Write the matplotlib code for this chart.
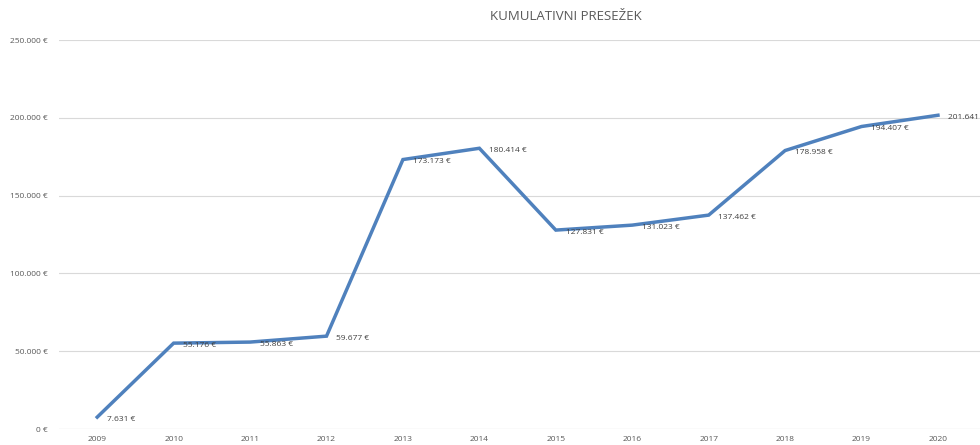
import matplotlib.pyplot as plt
from matplotlib.ticker import FuncFormatter

years = ["2009", "2010", "2011", "2012", "2013", "2014", "2015", "2016", "2017", "2018", "2019", "2020"]
presezek = [7631, 55176, 55863, 59677, 173173, 180414, 127831, 131023, 137462, 178958, 194407, 201641]

plt.rcParams['font.family'] = ['Open Sans', 'DejaVu Sans']


def eur(v, pos=None):
    return f"{v:,.0f} €".replace(",", ".")


fig = plt.figure(figsize=(9.8, 4.45), dpi=100)
ax = fig.add_axes([59 / 980, 16 / 445, 921 / 980, 389 / 445])

x = range(len(years))
ax.plot(x, presezek, color="#4f81bd", lw=2.5, solid_joinstyle="miter")

for i, v in enumerate(presezek):
    ax.annotate(eur(v), (i, v), xytext=(7, -1.5), textcoords="offset points",
                fontsize=6, color="#404040", ha="left", va="center")

ax.set_xlim(-0.5, len(years) - 0.45)
ax.set_ylim(0, 250000)
ax.set_yticks(range(0, 250001, 50000))
ax.yaxis.set_major_formatter(FuncFormatter(eur))
ax.set_xticks(list(x))
ax.set_xticklabels(years)
ax.tick_params(length=0, labelsize=6, labelcolor="#595959")
ax.tick_params(axis="y", pad=8)
ax.tick_params(axis="x", pad=5)
ax.grid(axis="y", color="#d9d9d9", lw=0.8)
ax.set_axisbelow(True)
for s in ax.spines.values():
    s.set_visible(False)
ax.axhline(0, color="#d9d9d9", lw=0.8)

fig.text(0.577, 0.962, "KUMULATIVNI PRESEŽEK", ha="center", va="center",
         fontsize=9.5, color="#595959")

fig.savefig("out.png", dpi=100)
